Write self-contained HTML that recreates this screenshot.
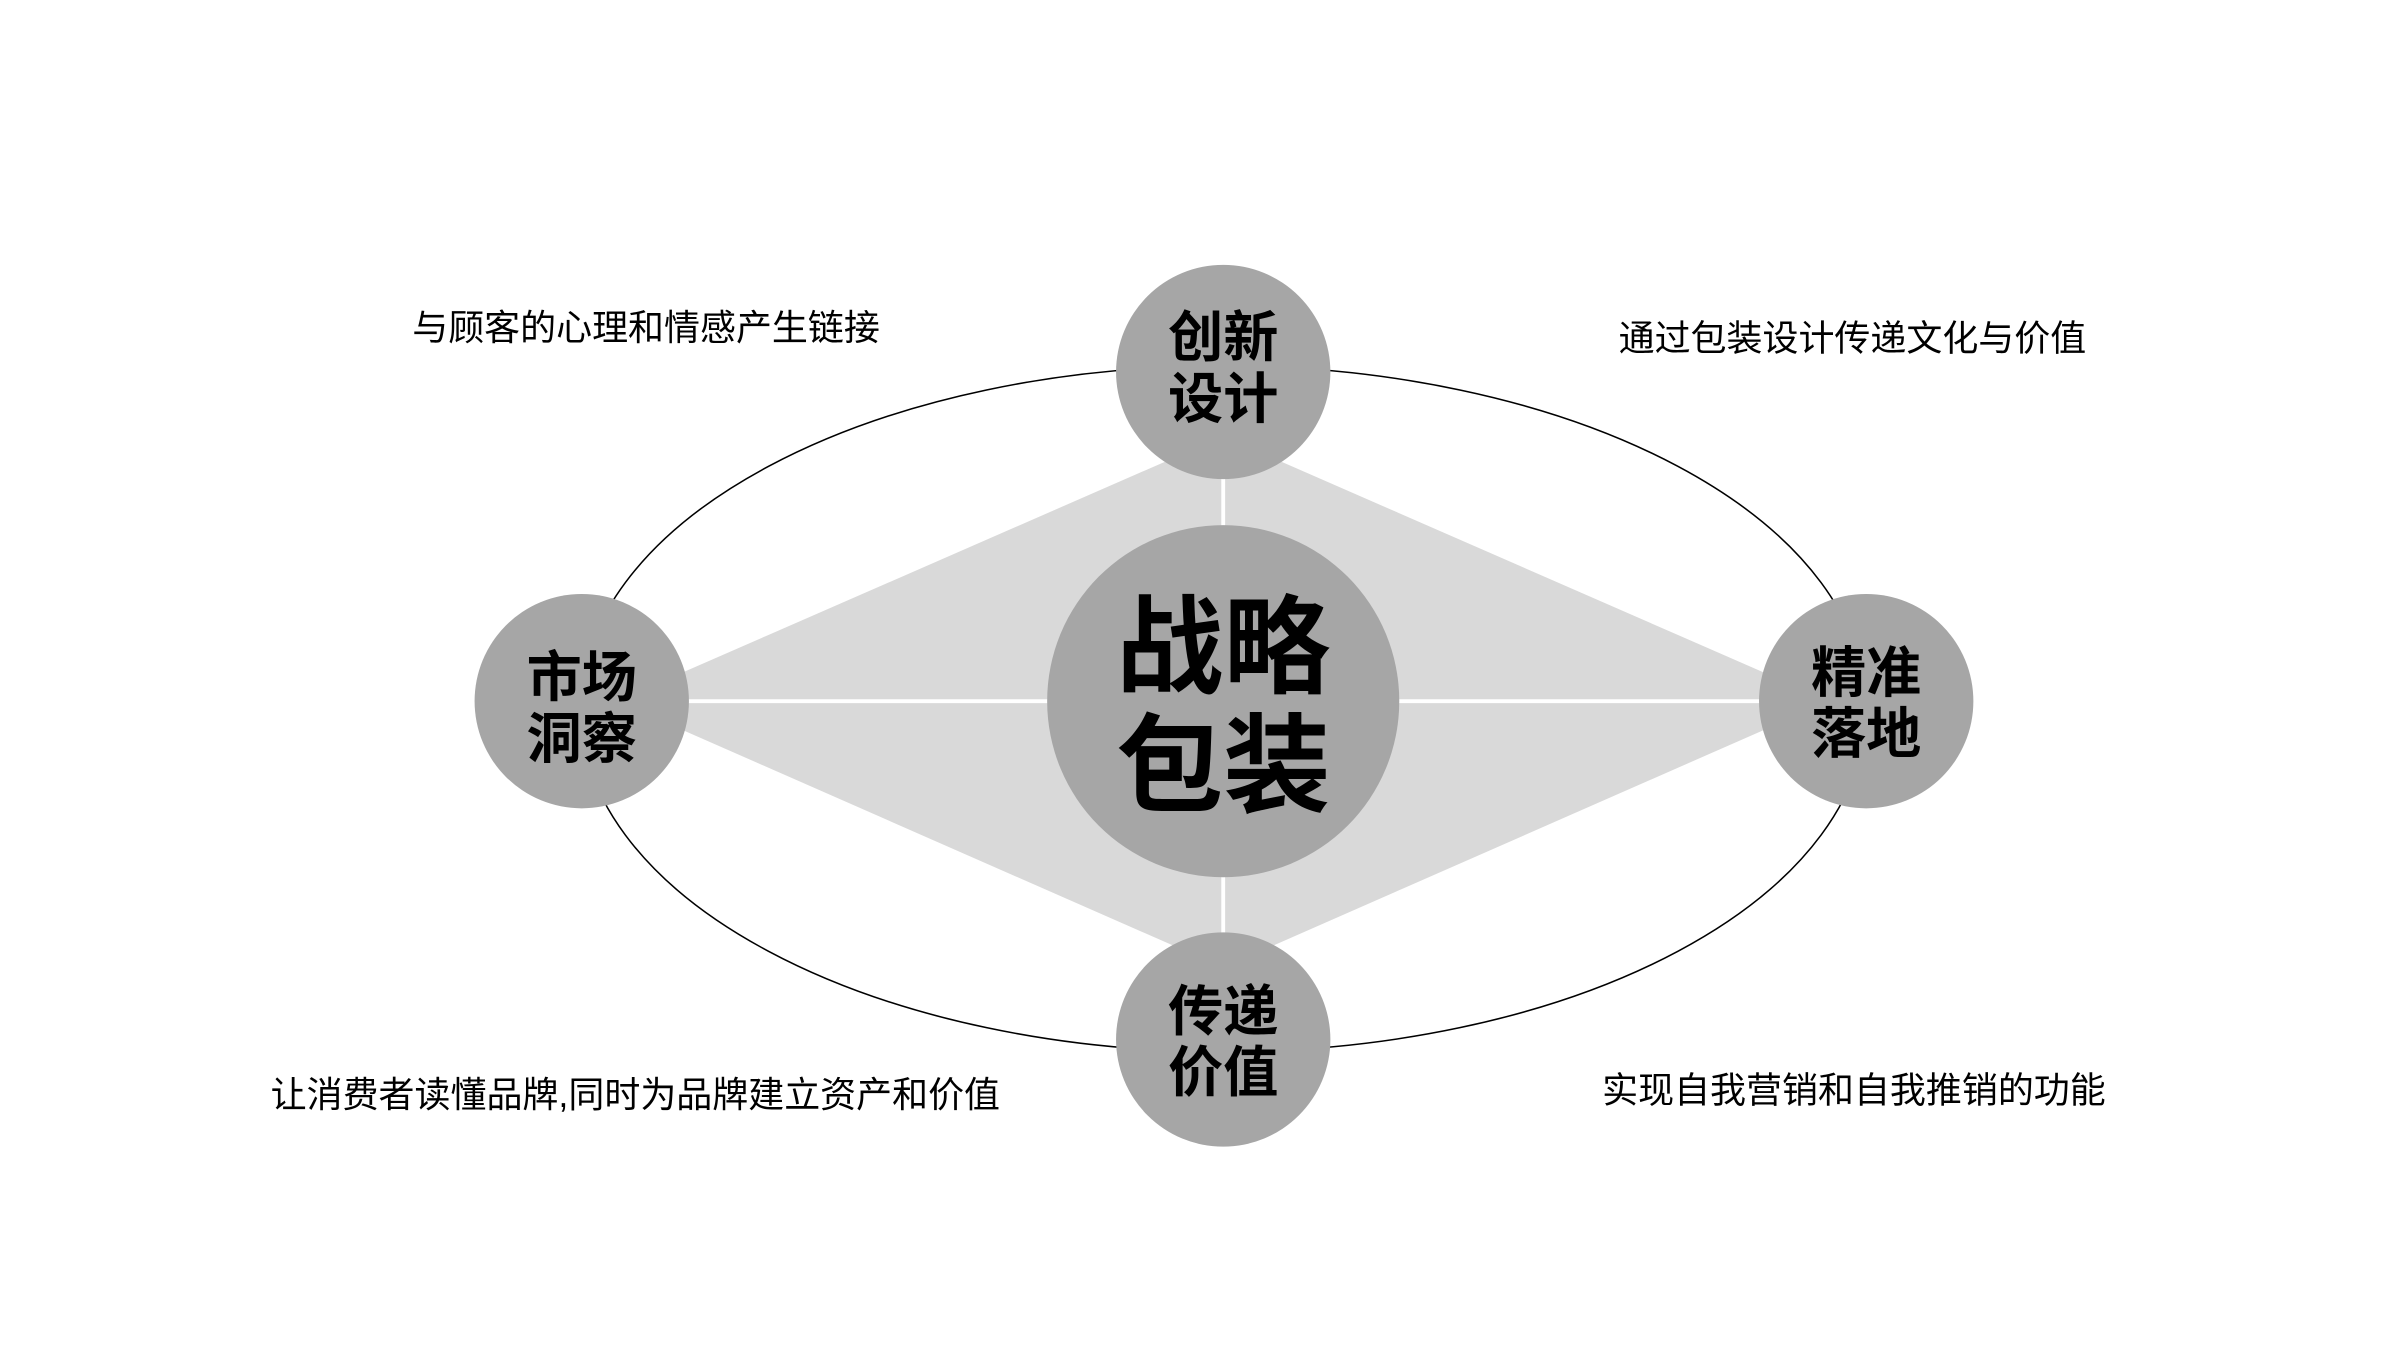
<!DOCTYPE html>
<html><head><meta charset="utf-8"><style>
html,body{margin:0;padding:0;background:#fff;}
svg{display:block;}
text{font-family:"Liberation Sans","Noto Sans CJK SC",sans-serif;}
</style></head><body>
<svg width="2400" height="1350" viewBox="0 0 1552 873" xmlns="http://www.w3.org/2000/svg">
<rect width="1552" height="873" fill="#fff"/>
<g transform="scale(0.99)">
<ellipse cx="799" cy="463" rx="420" ry="224" fill="none" stroke="#000" stroke-width="1"/>
<polygon points="799,285 1195,458 799,632 403,458" fill="#d9d9d9"/>
<line x1="380" y1="458" x2="1219" y2="458" stroke="#fff" stroke-width="2.5"/>
<line x1="799" y1="243" x2="799" y2="679" stroke="#fff" stroke-width="2.5"/>
<g fill="#a6a6a6">
<circle cx="799" cy="458" r="115"/>
<circle cx="799" cy="243" r="70"/>
<circle cx="380" cy="458" r="70"/>
<circle cx="1219" cy="458" r="70"/>
<circle cx="799" cy="679" r="70"/>
</g>
<g font-weight="bold" font-size="36" text-anchor="middle" fill="#000">
<text x="799" y="233">创新</text><text x="799" y="273">设计</text>
<text x="380" y="455">市场</text><text x="380" y="495">洞察</text>
<text x="1219" y="452">精准</text><text x="1219" y="492">落地</text>
<text x="799" y="673">传递</text><text x="799" y="713">价值</text>
<text x="799" y="447" font-size="70">战略</text>
<text x="799" y="525" font-size="70">包装</text>
</g>
<g font-size="23.5" fill="#000" text-anchor="middle">
<text x="422" y="222">与顾客的心理和情感产生链接</text>
<text x="1210" y="229">通过包装设计传递文化与价值</text>
<text x="415" y="723">让消费者读懂品牌,同时为品牌建立资产和价值</text>
<text x="1211" y="720">实现自我营销和自我推销的功能</text>
</g>
</g>
</svg>
</body></html>
